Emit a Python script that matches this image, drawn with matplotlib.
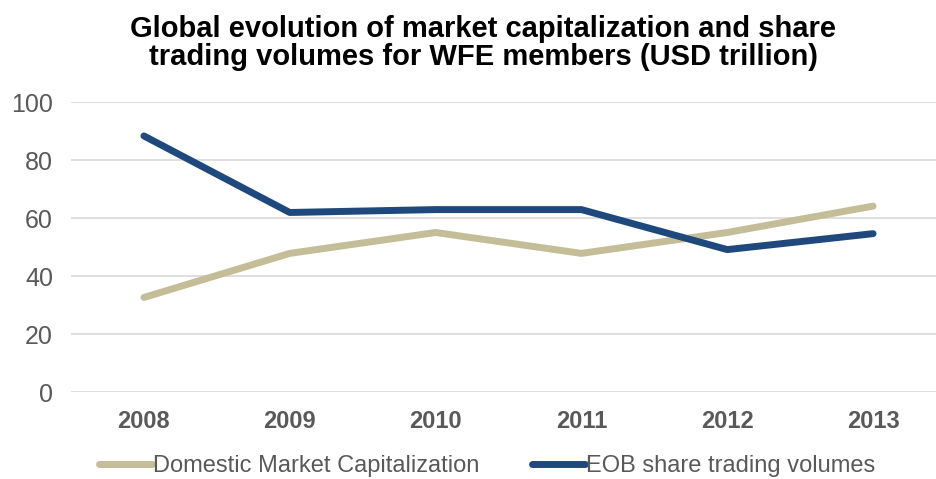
import matplotlib
matplotlib.use("Agg")
import matplotlib.pyplot as plt

years = ["2008", "2009", "2010", "2011", "2012", "2013"]
domestic_cap = [32.6, 47.8, 55.0, 47.8, 55.0, 64.1]
eob_volumes = [88.3, 61.9, 62.9, 62.9, 49.1, 54.6]

plt.rcParams['font.family'] = ['Liberation Sans', 'DejaVu Sans']

fig = plt.figure(figsize=(9.36, 4.79), dpi=100)
W, H = 936, 479
ax = fig.add_axes([71 / W, 1 - 392 / H, 875 / W, 290 / H])

x = list(range(len(years)))
ax.plot(x, domestic_cap, color='#C4BD97', lw=5, solid_capstyle='round',
        solid_joinstyle='round', label='Domestic Market Capitalization')
ax.plot(x, eob_volumes, color='#1F497D', lw=5, solid_capstyle='round',
        solid_joinstyle='round', label='EOB share trading volumes')

ax.set_xlim(-0.5, len(years) - 0.5)
ax.set_ylim(0, 100)
ax.set_yticks(range(0, 101, 20))
ax.set_xticks(x)
ax.set_xticklabels(years, fontweight='bold')
ax.tick_params(axis='y', length=0, pad=13, labelsize=18, labelcolor='#595959')
ax.tick_params(axis='x', length=0, pad=13, labelsize=17, labelcolor='#595959')
ax.grid(axis='y', color='#D9D9D9', lw=1.2)
ax.set_axisbelow(True)
for s in ax.spines.values():
    s.set_visible(False)

fig.text(483 / W, 1 - 43 / H,
         "Global evolution of market capitalization and share\ntrading volumes for WFE members (USD trillion)",
         ha='center', va='center', fontsize=21, fontweight='bold', color='black',
         linespacing=1.0)

leg = fig.legend(loc='center', bbox_to_anchor=(487 / W, 1 - 466 / H), ncol=2,
                 frameon=False, fontsize=17, handlelength=2.25, handletextpad=0.05,
                 columnspacing=2.2)
for t in leg.get_texts():
    t.set_color('#595959')

fig.savefig('out.png', dpi=100)
